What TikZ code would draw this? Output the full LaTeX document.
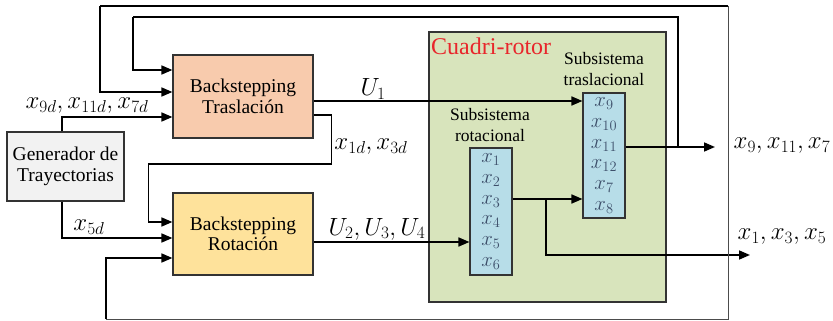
\documentclass[tikz,border=0pt]{standalone}
\usepackage{fontspec}
\setmainfont{Liberation Serif}
\usetikzlibrary{arrows.meta}
\definecolor{peach}{HTML}{F8CBAD}
\definecolor{gold}{HTML}{FEE29B}
\definecolor{greybox}{HTML}{F2F2F2}
\definecolor{olive}{HTML}{D8E4BC}
\definecolor{skyblue}{HTML}{B7DDE8}
\definecolor{slate}{HTML}{3D4F6A}
\definecolor{quadred}{HTML}{E8262B}
\begin{document}
\begin{tikzpicture}[x=1pt,y=-1pt,
  blk/.style={draw=black!80, line width=1.2pt, inner sep=0pt, align=center,
    font=\fontsize{19.5}{20.5}\selectfont},
  sub/.style={draw=black!80, line width=1.1pt, fill=skyblue, inner sep=0pt,
    minimum width=42pt, align=center, text=slate,
    font=\fontsize{22}{20.8}\selectfont},
  subtitle/.style={align=center, inner sep=0pt, font=\fontsize{17.5}{21}\selectfont},
  wire/.style={line width=1.7pt},
  thinwire/.style={line width=1pt, draw=black!70},
  arr/.style={wire, -{Triangle[length=11pt,width=9pt]}},
  lbl/.style={inner sep=0pt, font=\fontsize{25}{26}\selectfont}]
\useasboundingbox (0,0) rectangle (833,321);

% blocks
\node[blk, fill=olive, minimum width=237pt, minimum height=270pt] (quad) at (547.5,167) {};
\node[blk, fill=greybox, minimum width=117pt, minimum height=69pt] (gen) at (65.5,166.5)
  {Generador de\\Trayectorias};
\node[blk, fill=peach, minimum width=140pt, minimum height=83pt] (trasl) at (243,96.5)
  {Backstepping\\Traslación};
\node[blk, fill=gold, minimum width=140pt, minimum height=82pt] (rot) at (243,234)
  {Backstepping\\Rotación};
\node[sub, minimum height=125pt] (subT) at (604,155.5)
  {$x_{9}$\\$x_{10}$\\$x_{11}$\\$x_{12}$\\$x_{7}$\\$x_{8}$};
\node[sub, minimum height=127pt] (subR) at (491,211.5)
  {$x_{1}$\\$x_{2}$\\$x_{3}$\\$x_{4}$\\$x_{5}$\\$x_{6}$};

% titles inside the quadrotor block
\node[anchor=west, inner sep=0pt, text=quadred, font=\fontsize{24}{26}\selectfont] (quadname)
  at (431,46) {Cuadri-rotor};
\node[subtitle] (subTname) at (604,69) {Subsistema\\traslacional};
\node[subtitle] (subRname) at (490,125) {Subsistema\\rotacional};

% references from the trajectory generator
\draw[arr] ([xshift=-3.5pt]gen.north) |- ([yshift=-20.5pt]trasl.west);
\draw[arr] ([xshift=-3.5pt]gen.south) |- ([yshift=-4pt]rot.west);
\node[lbl] (refT) at (87,106) {$x_{9d},x_{11d},x_{7d}$};
\node[lbl] (refR) at (89,227) {$x_{5d}$};

% desired angles from the translational controller
\draw[arr] ([yshift=-18.5pt]trasl.east) -- ++(18,0) -- ++(0,49) -- ++(-183,0)
  |- ([yshift=12pt]rot.west);
\node[lbl] (angles) at (371,147) {$x_{1d},x_{3d}$};

% control inputs
\draw[arr] ([yshift=-4.5pt]trasl.east) -- ([yshift=54.5pt]subT.west);
\node[lbl] (u1) at (373,89) {$U_1$};
\draw[arr] ([yshift=-8pt]rot.east) -- ([yshift=-30.5pt]subR.west);
\node[lbl] (u234) at (377,229) {$U_2,U_3,U_4$};

% coupling and outputs
\coordinate (br) at (546,199);
\coordinate (outR) at (750,255);
\coordinate (outT) at (715,147);
\draw[arr] ([yshift=12.5pt]subR.east) -- ([yshift=-43.5pt]subT.west);
\draw[arr] (br) |- (outR);
\draw[arr] ([yshift=8.5pt]subT.east) -- (outT);
\node[lbl] (yT) at (782,146) {$x_9,x_{11},x_7$};
\node[lbl] (yR) at (782,237) {$x_1,x_3,x_5$};

% inner feedback loop
\coordinate (fbD) at (678,147);
\coordinate (fbE) at (133,17);
\draw[wire] (fbD) |- (fbE);
\draw[arr] (fbE) |- ([yshift=26.5pt]trasl.west);

% outer feedback loop
\coordinate (fbA) at (106,319);
\coordinate (fbB) at (728,6);
\coordinate (fbC) at (100,6);
\draw[thinwire] (fbB) |- (fbA);
\draw[wire] (fbB) -- (fbC);
\draw[arr] (fbC) |- ([yshift=4.5pt]trasl.west);
\draw[arr] (fbA) |- ([yshift=-24pt]rot.west);
\end{tikzpicture}
\end{document}
